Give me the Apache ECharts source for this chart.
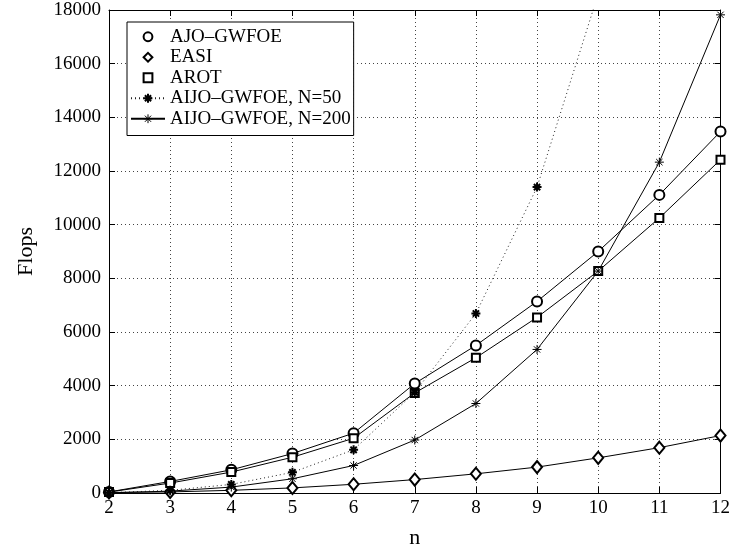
<!DOCTYPE html>
<html>
<head>
<meta charset="utf-8">
<script src="https://cdn.jsdelivr.net/npm/echarts@6/dist/echarts.min.js"></script>
<style>
html,body{margin:0;padding:0;background:#fff;}
#c{width:733px;height:554px;}
</style>
</head>
<body>
<div id="c"></div>
<script>
const nVals = [2, 3, 4, 5, 6, 7, 8, 9, 10, 11, 12];
const ajoGwfoe = [40, 430, 864, 1470, 2230, 4080, 5500, 7140, 9000, 11110, 13470];
const easi = [20, 40, 100, 190, 325, 500, 715, 965, 1310, 1690, 2140];
const arot = [35, 370, 780, 1333, 2040, 3730, 5040, 6545, 8270, 10250, 12420];
const aijoN50 = [10, 100, 320, 770, 1610, 3750, 6690, 11400, 18600];
const aijoN200 = [5, 70, 220, 530, 1025, 1975, 3335, 5350, 8270, 12330, 17820];
const seriesNames = ['AJO–GWFOE', 'EASI', 'AROT', 'AIJO–GWFOE, N=50', 'AIJO–GWFOE, N=200'];
const xTicks = {min: 2, max: 12, step: 1};
const yTicks = {min: 0, max: 18000, step: 2000};

const FONT = '"Liberation Serif", "Times New Roman", "DejaVu Serif", serif';
const ASTER = 'path://M0,-10L0,10M-10,0L10,0M-7,-7L7,7M-7,7L7,-7';
const pairs = ys => ys.map((v, i) => [nVals[i], v]);
const plain = v => String(v);

const chart = echarts.init(document.getElementById('c'), null, {renderer: 'canvas'});

const baseLine = (name, ys, symbol, size, extra) => Object.assign({
  name: name,
  type: 'line',
  data: pairs(ys),
  symbol: symbol,
  symbolSize: size,
  showAllSymbol: true,
  clip: true,
  animation: false,
  lineStyle: {color: '#000', width: 1},
  itemStyle: {color: '#000', borderColor: '#000', borderWidth: 1},
  emphasis: {disabled: true}
}, extra || {});

const option = {
  backgroundColor: '#fff',
  animation: false,
  grid: {left: 109, right: 7, top: 10, bottom: 58, containLabel: false},
  legend: {
    left: 127, top: 22,
    orient: 'vertical',
    backgroundColor: '#fff',
    borderColor: '#000',
    borderWidth: 1,
    padding: [5, 3, 7, 3],
    itemWidth: 34,
    itemHeight: 11,
    itemGap: 1,
    textStyle: {fontFamily: FONT, fontSize: 19, color: '#000', lineHeight: 19.5},
    selectedMode: false,
    data: [
      {name: seriesNames[0], lineStyle: {opacity: 0}, itemStyle: {borderWidth: 1}},
      {name: seriesNames[1], lineStyle: {opacity: 0}, itemStyle: {borderWidth: 1}},
      {name: seriesNames[2], lineStyle: {opacity: 0}, itemStyle: {borderWidth: 1}},
      {name: seriesNames[3], itemStyle: {borderWidth: 2}},
      {name: seriesNames[4], itemStyle: {borderWidth: 1}}
    ]
  },
  xAxis: [{
    type: 'value', min: xTicks.min, max: xTicks.max, interval: xTicks.step,
    name: 'n', nameLocation: 'middle', nameGap: 34,
    nameTextStyle: {fontFamily: FONT, fontSize: 22, color: '#000'},
    axisLine: {show: true, onZero: false, lineStyle: {color: '#000', width: 1}},
    axisTick: {show: true, inside: true, length: 6, lineStyle: {color: '#000'}},
    axisLabel: {fontFamily: FONT, fontSize: 19, color: '#000', margin: 6, formatter: plain},
    splitLine: {show: true, lineStyle: {color: '#444', width: 1, type: [1, 3]}}
  }, {
    type: 'value', position: 'top', min: xTicks.min, max: xTicks.max, interval: xTicks.step,
    axisLine: {show: true, onZero: false, lineStyle: {color: '#000', width: 1}},
    axisTick: {show: true, inside: true, length: 6, lineStyle: {color: '#000'}},
    axisLabel: {show: false}, splitLine: {show: false}
  }],
  yAxis: [{
    type: 'value', min: yTicks.min, max: yTicks.max, interval: yTicks.step,
    name: 'Flops', nameLocation: 'middle', nameGap: 72, nameRotate: 90,
    nameTextStyle: {fontFamily: FONT, fontSize: 22, color: '#000'},
    axisLine: {show: true, onZero: false, lineStyle: {color: '#000', width: 1}},
    axisTick: {show: true, inside: true, length: 6, lineStyle: {color: '#000'}},
    axisLabel: {fontFamily: FONT, fontSize: 19, color: '#000', margin: 8, formatter: plain},
    splitLine: {show: true, lineStyle: {color: '#444', width: 1, type: [1, 3]}}
  }, {
    type: 'value', position: 'right', min: yTicks.min, max: yTicks.max, interval: yTicks.step,
    axisLine: {show: true, onZero: false, lineStyle: {color: '#000', width: 1}},
    axisTick: {show: true, inside: true, length: 6, lineStyle: {color: '#000'}},
    axisLabel: {show: false}, splitLine: {show: false}
  }],
  series: [
    baseLine(seriesNames[0], ajoGwfoe, 'emptyCircle', 10),
    baseLine(seriesNames[1], easi, 'emptyDiamond', [10, 12]),
    baseLine(seriesNames[2], arot, 'emptyRect', 8),
    baseLine(seriesNames[3], aijoN50, ASTER, 9, {
      lineStyle: {color: '#222', width: 1, type: [1, 3]},
      itemStyle: {color: '#000', borderColor: '#000', borderWidth: 2}
    }),
    baseLine(seriesNames[4], aijoN200, ASTER, 9)
  ]
};
chart.setOption(option);
</script>
</body>
</html>
